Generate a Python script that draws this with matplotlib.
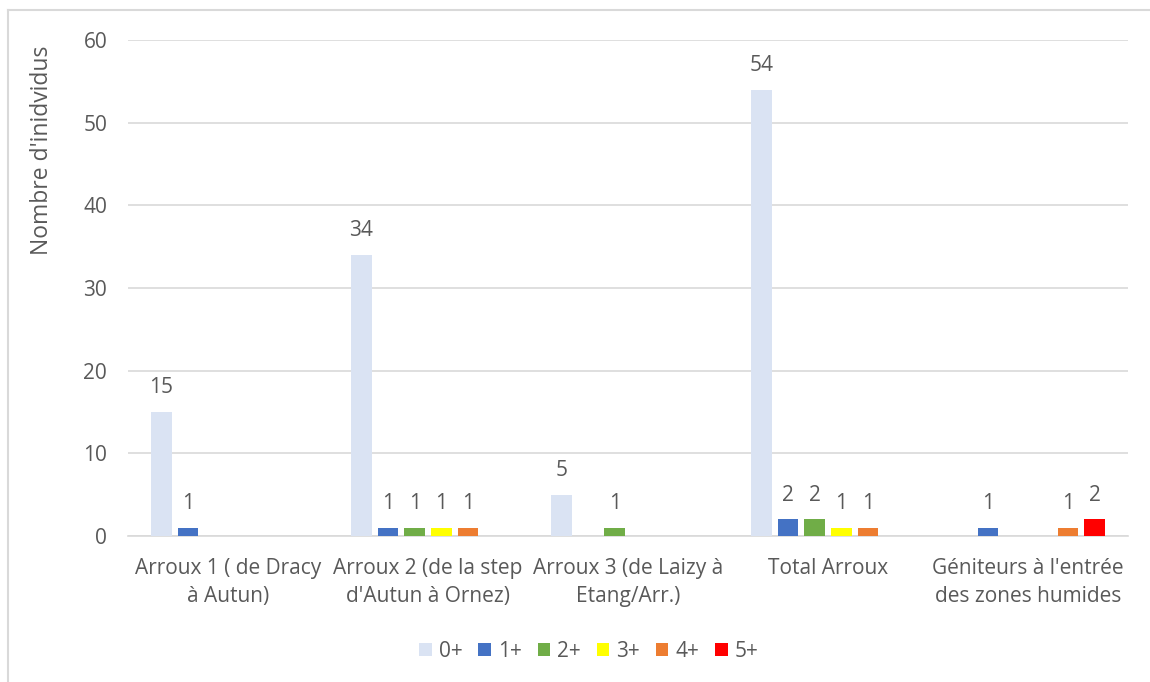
import matplotlib
matplotlib.use("Agg")
import matplotlib.pyplot as plt
from matplotlib.lines import Line2D
import numpy as np

plt.rcParams["font.family"] = ["Open Sans", "DejaVu Sans"]

categories = [
    "Arroux 1 ( de Dracy\nà Autun)",
    "Arroux 2 (de la step\nd'Autun à Ornez)",
    "Arroux 3 (de Laizy à\nEtang/Arr.)",
    "Total Arroux",
    "Géniteurs à l'entrée\ndes zones humides",
]
age_classes = ["0+", "1+", "2+", "3+", "4+", "5+"]
counts_0 = [15, 34, 5, 54, 0]
counts_1 = [1, 1, 0, 2, 1]
counts_2 = [0, 1, 1, 2, 0]
counts_3 = [0, 1, 0, 1, 0]
counts_4 = [0, 1, 0, 1, 1]
counts_5 = [0, 0, 0, 0, 2]
colors = ["#DAE3F3", "#4472C4", "#70AD47", "#FFFF00", "#ED7D31", "#FF0000"]

series = [counts_0, counts_1, counts_2, counts_3, counts_4, counts_5]
TXT = "#595959"
FS = 15

fig = plt.figure(figsize=(11.5, 6.82), dpi=100)
ax = fig.add_axes([0.1113, 0.2141, 0.8696, 0.7272])

x = np.arange(len(categories))
step = 0.8 / len(series)
width = step * 0.78
for i, (vals, col, name) in enumerate(zip(series, colors, age_classes)):
    pos = x - 0.4 + step * (i + 0.5)
    bars = ax.bar(pos, vals, width=width, color=col, label=name, zorder=3)
    for b, v in zip(bars, vals):
        if v:  # empty classes get no label
            ax.annotate(str(v), (b.get_x() + b.get_width() / 2, v),
                        xytext=(0, 10), textcoords="offset points",
                        ha="center", va="bottom", fontsize=FS, color=TXT)

ax.set_xlim(-0.5, len(categories) - 0.5)
ax.set_ylim(0, 60)
ax.set_yticks(range(0, 61, 10))
ax.yaxis.grid(True, color="#D9D9D9", lw=1.2, zorder=0)
ax.set_axisbelow(True)
for s in ["top", "right", "left"]:
    ax.spines[s].set_visible(False)
ax.spines["bottom"].set_color("#D9D9D9")
ax.spines["bottom"].set_linewidth(1.2)
ax.set_xticks(x)
ax.set_xticklabels(categories, fontsize=FS, color=TXT, linespacing=1.4)
ax.tick_params(axis="both", length=0, labelsize=FS, labelcolor=TXT)
ax.tick_params(axis="x", pad=16)
ax.tick_params(axis="y", pad=15)

fig.text(0.0365, 0.78, "Nombre d'inidvidus", rotation=90, ha="center",
         va="center", fontsize=16.5, color=TXT)

ax.legend(loc="center", bbox_to_anchor=(0.461, -0.232), ncol=6, frameon=False,
          fontsize=FS, handlelength=0.6, handleheight=0.6, handletextpad=0.35,
          columnspacing=0.75, labelcolor=TXT)

# chart frame
fig.add_artist(Line2D([8 / 1150, 8 / 1150], [0, 1 - 10 / 682],
                      transform=fig.transFigure, color="#D9D9D9", lw=1.5))
fig.add_artist(Line2D([8 / 1150, 1], [1 - 10 / 682, 1 - 10 / 682],
                      transform=fig.transFigure, color="#D9D9D9", lw=1.5))

fig.savefig("out.png", dpi=100)
